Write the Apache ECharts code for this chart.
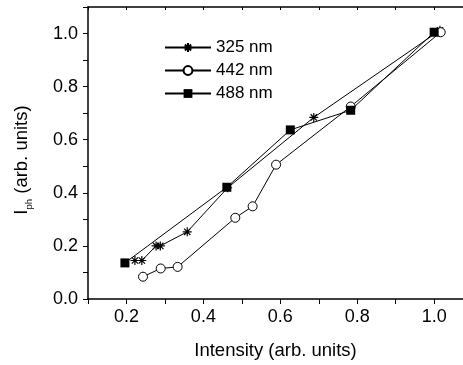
<!DOCTYPE html>
<html>
<head>
<meta charset="utf-8">
<script src="https://cdn.jsdelivr.net/npm/echarts@6/dist/echarts.min.js"></script>
<style>html,body{margin:0;padding:0;background:#fff}#c{width:463px;height:365px}</style>
</head>
<body>
<div id="c"></div>
<script>
var seriesNames = ['325 nm', '442 nm', '488 nm'];
var x325 = [0.222, 0.240, 0.277, 0.288, 0.358, 0.463, 0.687, 1.015];
var y325 = [0.145, 0.145, 0.200, 0.200, 0.253, 0.419, 0.684, 1.012];
var x442 = [0.243, 0.289, 0.333, 0.483, 0.528, 0.589, 0.783, 1.017];
var y442 = [0.084, 0.115, 0.121, 0.306, 0.349, 0.506, 0.725, 1.005];
var x488 = [0.196, 0.461, 0.626, 0.783, 1.000];
var y488 = [0.136, 0.421, 0.637, 0.711, 1.005];
var xTickLabels = ['0.2', '0.4', '0.6', '0.8', '1.0'];
var yTickLabels = ['0.0', '0.2', '0.4', '0.6', '0.8', '1.0'];

function pairs(xs, ys) { return xs.map(function (x, i) { return [x, ys[i]]; }); }
function isEven(v) { return Math.abs(Math.round(v * 10) % 2) === 0; }
function fmt(v, list) { var s = v.toFixed(1); return list.indexOf(s) >= 0 ? s : ''; }

var FONT = 'Liberation Sans, Arial, sans-serif';
var star = 'path://M5,0L5,10M0,5L10,5M1.5,1.5L8.5,8.5M8.5,1.5L1.5,8.5';
var XMIN = 0.1, XMAX = 1.075, YMIN = 0, YMAX = 1.1;

var chart = echarts.init(document.getElementById('c'));
var axisLineStyle = { color: '#000', width: 1.5 };
chart.setOption({
  animation: false,
  backgroundColor: '#fff',
  grid: { left: 88, top: 7, right: 0, bottom: 64 },
  legend: {
    orient: 'vertical', left: 159, top: 34,
    itemWidth: 46, itemHeight: 11, itemGap: 6,
    textStyle: { fontFamily: FONT, fontSize: 17, color: '#000' },
    data: seriesNames
  },
  xAxis: [
    {
      type: 'value', min: XMIN, max: XMAX, interval: 0.1, position: 'bottom',
      axisLine: { show: true, lineStyle: axisLineStyle },
      axisTick: { show: true, length: 5, lineStyle: { color: '#000', width: 1 },
        interval: function (i, v) { return isEven(v); } },
      axisLabel: { margin: 9, fontFamily: FONT, fontSize: 18, color: '#000',
        formatter: function (v) { return fmt(v, xTickLabels); }, showMaxLabel: false },
      splitLine: { show: false },
      name: 'Intensity (arb. units)', nameLocation: 'middle', nameGap: 42,
      nameTextStyle: { fontFamily: FONT, fontSize: 18.5, color: '#000' }
    },
    {
      type: 'value', min: XMIN, max: XMAX, interval: 0.1, position: 'bottom',
      axisLine: { show: false },
      axisTick: { show: true, length: 3, lineStyle: { color: '#000', width: 1 } },
      axisLabel: { show: false }, splitLine: { show: false }
    },
    {
      type: 'value', min: XMIN, max: XMAX, interval: 0.1, position: 'top',
      axisLine: { show: true, lineStyle: axisLineStyle },
      axisTick: { show: true, inside: true, length: 3, lineStyle: { color: '#000', width: 1 },
        interval: function (i, v) { return isEven(v) && v > 0.15 && v < 1.05; } },
      axisLabel: { show: false }, splitLine: { show: false }
    }
  ],
  yAxis: [
    {
      type: 'value', min: YMIN, max: YMAX, interval: 0.1,
      axisLine: { show: true, lineStyle: axisLineStyle },
      axisTick: { show: true, length: 5, lineStyle: { color: '#000', width: 1 },
        interval: function (i, v) { return isEven(v) && v < 1.05; } },
      axisLabel: { margin: 10, fontFamily: FONT, fontSize: 18, color: '#000',
        formatter: function (v) { return fmt(v, yTickLabels); } },
      splitLine: { show: false },
      name: '{a|I}{b|ph}{a| (arb. units)}', nameLocation: 'middle', nameGap: 57,
      nameTextStyle: {
        fontFamily: FONT, fontSize: 18.5, color: '#000', padding: [0, 14, 0, 0],
        rich: {
          a: { fontFamily: FONT, fontSize: 18.5, color: '#000', lineHeight: 21, verticalAlign: 'bottom' },
          b: { fontFamily: FONT, fontSize: 9.5, color: '#000', lineHeight: 21, verticalAlign: 'bottom', padding: [0, 0, -3, 0] }
        }
      }
    },
    {
      type: 'value', min: YMIN, max: YMAX, interval: 0.1, position: 'left',
      axisLine: { show: false },
      axisTick: { show: true, length: 3, lineStyle: { color: '#000', width: 1 },
        interval: function (i, v) { return v < 1.05; } },
      axisLabel: { show: false }, splitLine: { show: false }
    }
  ],
  series: [
    {
      name: seriesNames[0], type: 'line', data: pairs(x325, y325),
      symbol: star, symbolSize: 9,
      lineStyle: { color: '#000', width: 1 },
      itemStyle: { color: '#000', borderColor: '#000', borderWidth: 1.2 },
      z: 2
    },
    {
      name: seriesNames[1], type: 'line', data: pairs(x442, y442),
      symbol: 'circle', symbolSize: 9,
      lineStyle: { color: '#000', width: 1 },
      itemStyle: { color: '#fff', borderColor: '#000', borderWidth: 1 },
      z: 3
    },
    {
      name: seriesNames[2], type: 'line', data: pairs(x488, y488),
      symbol: 'rect', symbolSize: 9,
      lineStyle: { color: '#000', width: 1 },
      itemStyle: { color: '#000', borderColor: '#000', borderWidth: 0 },
      z: 4
    }
  ]
});
</script>
</body>
</html>
